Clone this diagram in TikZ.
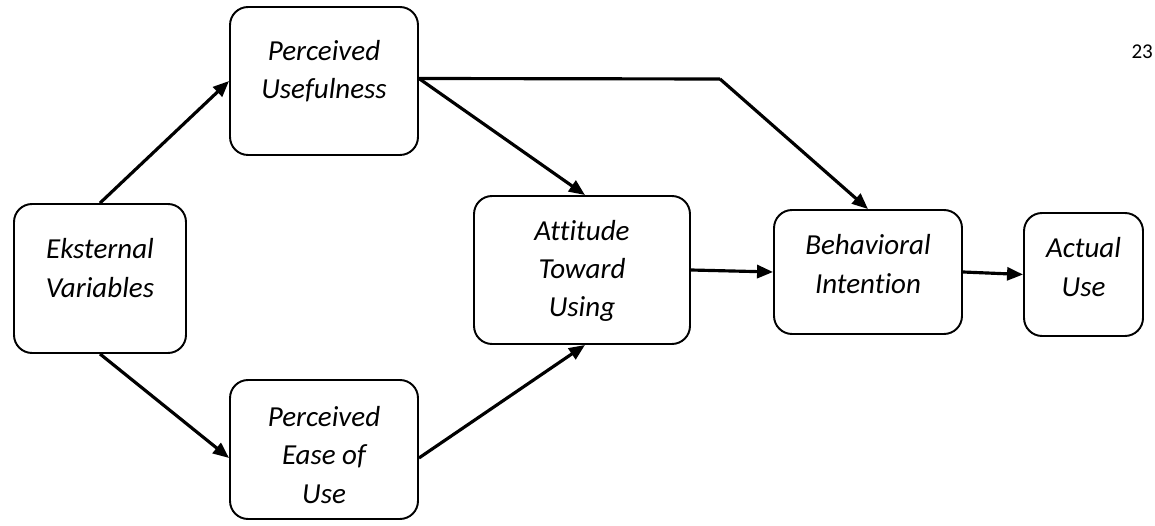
\documentclass[tikz,border=0pt]{standalone}
\usepackage{fontspec}
\setmainfont{Carlito}[Ligatures=NoCommon]
\usetikzlibrary{arrows.meta}

\begin{document}
\begin{tikzpicture}[x=0.02cm, y=-0.02cm,
    box/.style={draw, line width=1.1pt, rounded corners=0.36cm, inner sep=0pt},
    txt/.style={align=center, font=\fontsize{16.5}{21.8}\selectfont\itshape},
    link/.style={line width=1.8pt, -{Triangle[length=0.32cm, width=0.26cm]}}]
        \useasboundingbox (0, 0) rectangle (1155, 526);

        % Nodes
        \node[box, minimum width=3.44cm, minimum height=2.98cm] (ev) at (100, 278.5) {};
        \node[box, minimum width=3.76cm, minimum height=2.96cm] (pu) at (324, 81) {};
        \node[box, minimum width=3.76cm, minimum height=2.78cm] (pe) at (324, 449.5) {};
        \node[box, minimum width=4.32cm, minimum height=2.96cm] (atu) at (582, 270) {};
        \node[box, minimum width=3.76cm, minimum height=2.48cm] (bi) at (868, 272) {};
        \node[box, minimum width=2.38cm, minimum height=2.46cm] (au) at (1083.5, 274.5) {};

        % Labels
        \node[txt] (ev-t) at (100, 268) {Eksternal\\Variables};
        \node[txt] (pu-t) at (324, 71) {Perceived\\Usefulness};
        \node[txt] (pe-t) at (324, 455) {Perceived\\Ease of\\Use};
        \node[txt] (atu-t) at (582, 271) {Attitude\\Toward\\Using};
        \node[txt] (bi-t) at (868, 264) {Behavioral\\Intention};
        \node[txt] (au-t) at (1083.5, 267) {Actual\\Use};
        \node[anchor=east, inner sep=1pt, font=\fontsize{12}{14}\selectfont] (page) at (1155, 52) {23};

        \coordinate (bend) at (720, 79);

        % Edges
        \draw[link] (ev.north) -- (pu.west);
        \draw[link] (ev.south) -- ([yshift=-0.17cm]pe.west);
        \draw[link] ([yshift=0.05cm]pu.east) -- ([xshift=0.06cm]atu.north);
        \draw[line width=1.8pt] ([yshift=0.05cm]pu.east) -- (bend);
        \draw[link] (bend) -- (bi.north);
        \draw[link] ([yshift=-0.17cm]pe.east) -- ([xshift=0.06cm]atu.south);
        \draw[link] (atu.east) -- (bi.west);
        \draw[link] (bi.east) -- (au.west);
    \end{tikzpicture}
\end{document}
